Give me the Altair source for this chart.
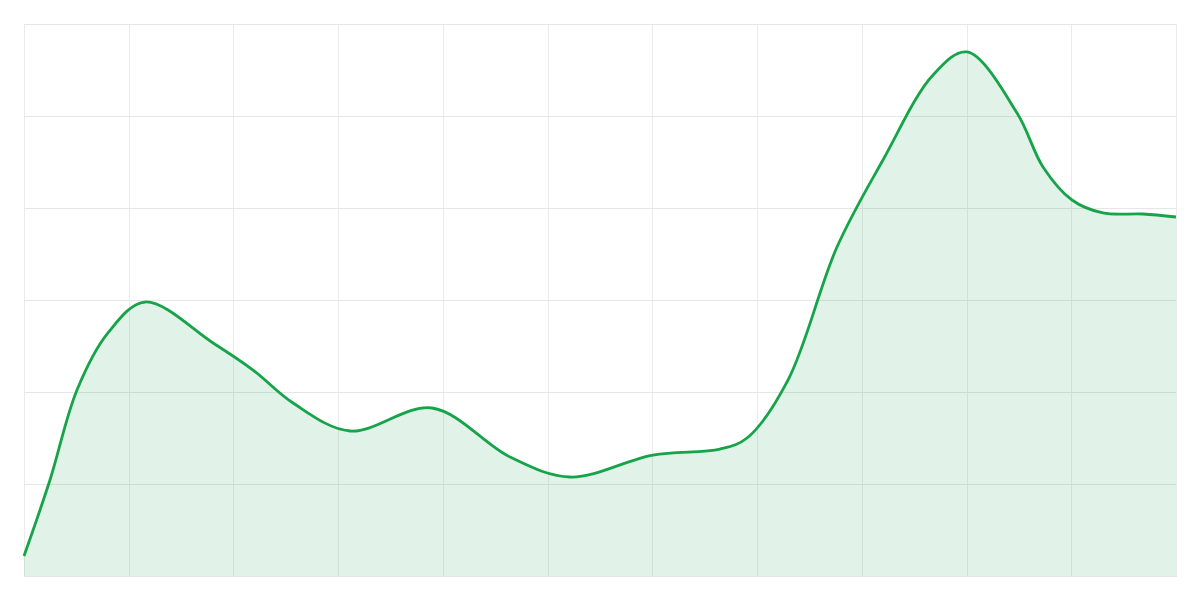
import altair as alt
import pandas as pd

x_vals = [0, 0.248, 0.506, 0.80, 1.155, 1.805, 2.187, 2.569, 3.113, 3.896, 4.641,
          5.214, 6.006, 6.646, 6.904, 7.295, 7.763, 8.202, 8.680, 9.004, 9.482,
          9.730, 10.007, 10.303, 10.685, 11.0]
y_vals = [2.17, 10.43, 20.22, 26.4, 29.78, 25.33, 22.39, 18.80, 15.76, 18.26, 12.93,
          10.76, 13.15, 13.80, 15.00, 21.30, 35.76, 45.22, 54.46, 56.96, 50.33,
          44.46, 40.87, 39.46, 39.35, 39.02]

df = pd.DataFrame({"x": x_vals, "y": y_vals})

LINE = "#16a34a"

x_enc = alt.X("x:Q", scale=alt.Scale(domain=[0, 11], nice=False, zero=False),
              axis=alt.Axis(values=list(range(12)), labels=False, ticks=False, domain=False,
                            title=None, grid=True, gridColor="#ebebeb", gridWidth=1))
y_enc = alt.Y("y:Q", scale=alt.Scale(domain=[0, 60], nice=False),
              axis=alt.Axis(values=[0, 10, 20, 30, 40, 50, 60], labels=False, ticks=False,
                            domain=False, title=None, grid=True, gridColor="#e6e6e6", gridWidth=1))

base = alt.Chart(df)
area = base.mark_area(interpolate="catmull-rom", color=LINE, opacity=0.13).encode(x=x_enc, y=y_enc)
line = base.mark_line(interpolate="catmull-rom", color=LINE, strokeWidth=2.8).encode(x="x:Q", y="y:Q")

chart = (area + line).properties(
    width=1152, height=552,
    autosize=alt.AutoSizeParams(type="none"),
    padding={"left": 16, "top": 16, "right": 16, "bottom": 16},
).configure_view(stroke=None).configure(background="white")

chart.save("out.html", embed_options={"renderer": "svg", "actions": False})
